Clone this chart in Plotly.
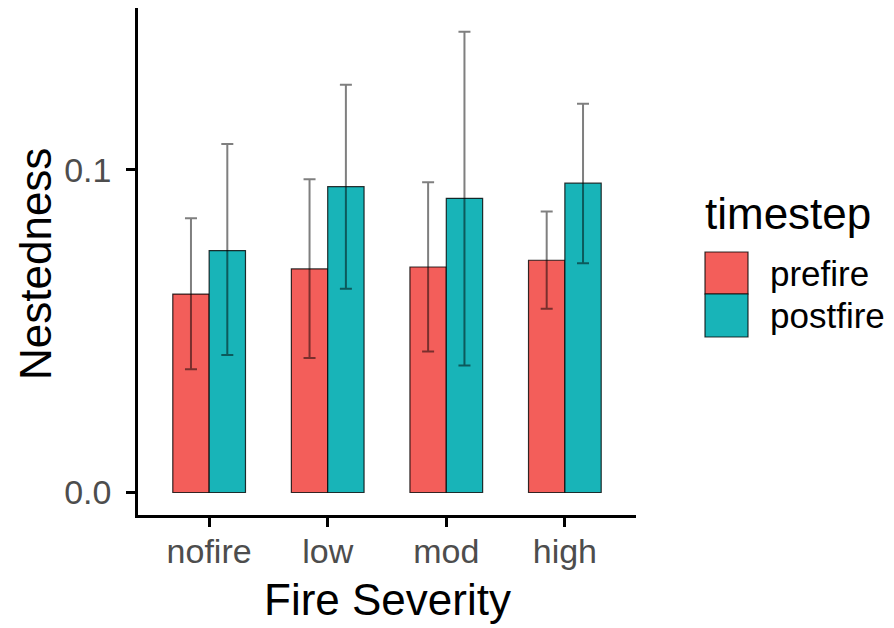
import plotly.graph_objects as go

severity = ["nofire", "low", "mod", "high"]
timesteps = ["prefire", "postfire"]
prefire_mean = [0.0615, 0.0693, 0.0699, 0.0720]
prefire_upper = [0.0850, 0.0971, 0.0962, 0.0871]
prefire_lower = [0.0382, 0.0417, 0.0437, 0.0570]
postfire_mean = [0.0750, 0.0948, 0.0912, 0.0959]
postfire_upper = [0.1080, 0.1264, 0.1428, 0.1205]
postfire_lower = [0.0426, 0.0632, 0.0394, 0.0711]

colors = {"prefire": "#F35E5A", "postfire": "#18B4B8"}
series = {
    "prefire": (prefire_mean, prefire_upper, prefire_lower),
    "postfire": (postfire_mean, postfire_upper, postfire_lower),
}

fig = go.Figure()
for ts in timesteps:
    m, up, lo = series[ts]
    fig.add_trace(go.Bar(
        x=severity, y=m, name=ts,
        marker=dict(color=colors[ts], line=dict(color="rgba(0,0,0,0.8)", width=1.2)),
        error_y=dict(type="data", symmetric=False,
                     array=[u - v for u, v in zip(up, m)],
                     arrayminus=[v - l for v, l in zip(m, lo)],
                     color="rgba(0,0,0,0.5)", thickness=2, width=6),
        showlegend=False,
    ))

font = "Liberation Sans, Arial, sans-serif"
PL, PR, PT, PB = 138, 636, 8, 515
W, H = PR - PL, PB - PT
fig.update_layout(
    width=894, height=628,
    margin=dict(l=PL, r=894 - PR, t=PT, b=628 - PB),
    paper_bgcolor="white", plot_bgcolor="white",
    barmode="group", bargap=0.387, bargroupgap=0,
    font=dict(family=font),
    xaxis=dict(range=[-0.6, 3.6], showline=True, linecolor="black", linewidth=2.5,
               ticks="outside", ticklen=9, tickwidth=2.5, tickcolor="black",
               tickfont=dict(size=34, color="#4D4D4D"), ticklabelstandoff=-5,
               showgrid=False, zeroline=False, automargin=False),
    yaxis=dict(range=[-0.00698, 0.1502], showline=True, linecolor="black", linewidth=2.5,
               ticks="outside", ticklen=9, tickwidth=2.5, tickcolor="black",
               tickvals=[0, 0.1], tickformat=".1f",
               tickfont=dict(size=34, color="#4D4D4D"), ticklabelstandoff=8,
               showgrid=False, zeroline=False, automargin=False),
)

def px(x):
    return (x - PL) / W

def py(y):
    return (PB - y) / H

# axis titles
fig.add_annotation(xref="paper", yref="paper", x=px(387), y=py(599), text="Fire Severity",
                   showarrow=False, xanchor="center", yanchor="middle",
                   font=dict(size=44, color="black", family=font))
fig.add_annotation(xref="paper", yref="paper", x=px(35), y=py(264), text="Nestedness",
                   showarrow=False, xanchor="center", yanchor="middle", textangle=-90,
                   font=dict(size=44, color="black", family=font))

# legend drawn manually
keys = [(252, 294), (294, 337)]
for ts, (y0, y1) in zip(timesteps, keys):
    fig.add_shape(type="rect", xref="paper", yref="paper",
                  x0=px(705), x1=px(748), y0=py(y1), y1=py(y0),
                  fillcolor=colors[ts], line=dict(color="rgba(0,0,0,0.8)", width=1.2))
    fig.add_annotation(xref="paper", yref="paper", x=px(768), y=py((y0 + y1) / 2),
                       text=ts, showarrow=False, xanchor="left", yanchor="middle",
                       font=dict(size=35, color="black", family=font))
fig.add_annotation(xref="paper", yref="paper", x=px(703), y=py(214),
                   text="timestep", showarrow=False, xanchor="left", yanchor="middle",
                   font=dict(size=44, color="black", family=font))

fig.write_html("out.html")
